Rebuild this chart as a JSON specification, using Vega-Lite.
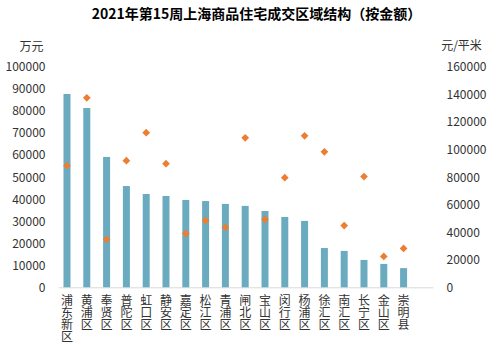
{
  "$schema": "https://vega.github.io/schema/vega-lite/v6.json",
  "autosize": {"type": "none"},
  "width": 375,
  "height": 220.6,
  "padding": {"left": 58, "top": 66.7, "right": 67, "bottom": 57.7},
  "background": "white",
  "title": {
    "text": "2021年第15周上海商品住宅成交区域结构（按金额）",
    "fontSize": 14,
    "fontWeight": "bold",
    "font": "Noto Sans CJK SC",
    "color": "#000000",
    "anchor": "middle",
    "dx": 11,
    "offset": 18
  },
  "config": {"view": {"stroke": null}, "font": "Noto Sans CJK SC"},
  "data": {
    "values": [
      {"d": "浦东新区", "amt": 87600, "price": 88200},
      {"d": "黄浦区", "amt": 81300, "price": 137400},
      {"d": "奉贤区", "amt": 59100, "price": 34700},
      {"d": "普陀区", "amt": 45900, "price": 91800},
      {"d": "虹口区", "amt": 42300, "price": 112100},
      {"d": "静安区", "amt": 41400, "price": 89700},
      {"d": "嘉定区", "amt": 39600, "price": 39000},
      {"d": "松江区", "amt": 39100, "price": 48400},
      {"d": "青浦区", "amt": 37800, "price": 43400},
      {"d": "闸北区", "amt": 36900, "price": 108400},
      {"d": "宝山区", "amt": 34600, "price": 49200},
      {"d": "闵行区", "amt": 31900, "price": 79500},
      {"d": "杨浦区", "amt": 30100, "price": 109900},
      {"d": "徐汇区", "amt": 17800, "price": 98300},
      {"d": "南汇区", "amt": 16500, "price": 44800},
      {"d": "长宁区", "amt": 12400, "price": 80300},
      {"d": "金山区", "amt": 10600, "price": 22400},
      {"d": "崇明县", "amt": 8700, "price": 28200}
    ]
  },
  "encoding": {
    "x": {
      "field": "d",
      "type": "nominal",
      "sort": null,
      "scale": {"paddingInner": 0.6465, "paddingOuter": 0.793, "align": 0.175},
      "axis": {
        "title": null,
        "labelAngle": 0,
        "labelExpr": "split(datum.label, '')",
        "labelFontSize": 12,
        "labelLineHeight": 12,
        "labelColor": "#333333",
        "labelPadding": 8,
        "ticks": false,
        "domain": true,
        "domainColor": "#d9d9d9",
        "labelOverlap": false
      }
    }
  },
  "layer": [
    {
      "mark": {"type": "bar", "color": "#6AABC0"},
      "encoding": {
        "y": {
          "field": "amt",
          "type": "quantitative",
          "scale": {"domain": [0, 100000]},
          "axis": {
            "values": [0, 10000, 20000, 30000, 40000, 50000, 60000, 70000, 80000, 90000, 100000],
            "format": "d",
            "grid": false,
            "domain": false,
            "ticks": false,
            "labelFontSize": 12,
            "labelColor": "#333333",
            "labelPadding": 13,
            "title": "万元",
            "titleAngle": 0,
            "titleX": -27,
            "titleY": -20,
            "titleAlign": "center",
            "titleBaseline": "middle",
            "titleFontWeight": "normal",
            "titleFontSize": 12,
            "titleColor": "#333333"
          }
        }
      }
    },
    {
      "mark": {"type": "point", "shape": "diamond", "filled": true, "color": "#ED7D31", "size": 60, "opacity": 1},
      "encoding": {
        "y": {
          "field": "price",
          "type": "quantitative",
          "scale": {"domain": [0, 160000]},
          "axis": {
            "orient": "right",
            "values": [0, 20000, 40000, 60000, 80000, 100000, 120000, 140000, 160000],
            "format": "d",
            "grid": false,
            "domain": false,
            "ticks": false,
            "labelFontSize": 12,
            "labelColor": "#333333",
            "labelPadding": 13,
            "title": "元/平米",
            "titleAngle": 0,
            "titleX": 28,
            "titleY": -21,
            "titleAlign": "center",
            "titleBaseline": "middle",
            "titleFontWeight": "normal",
            "titleFontSize": 12,
            "titleColor": "#333333"
          }
        }
      }
    }
  ],
  "resolve": {"scale": {"y": "independent"}}
}
